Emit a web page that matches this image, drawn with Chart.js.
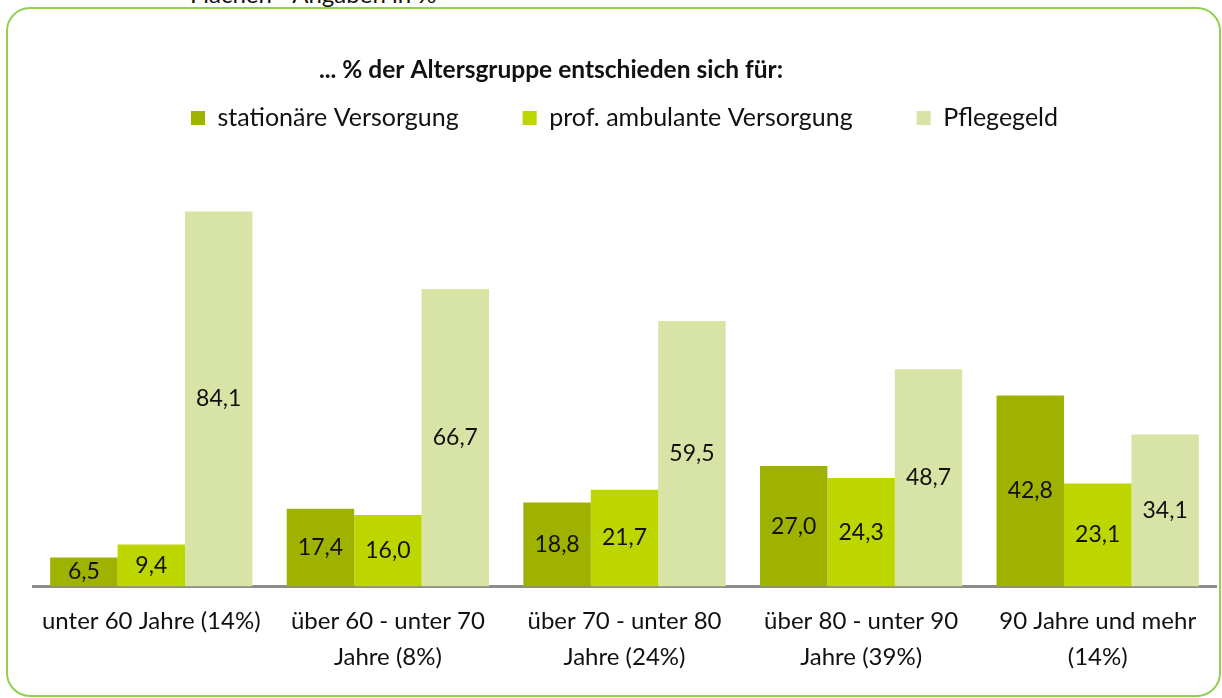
<!DOCTYPE html>
<html>
<head>
<meta charset="utf-8">
<script src="https://cdn.jsdelivr.net/npm/chart.js@4/dist/chart.umd.min.js"></script>
<style>
    html, body { margin: 0; padding: 0; background: #fff; overflow: hidden; }
    .wrap { position: relative; width: 1222px; height: 698px; }
    .frame {
        position: absolute; left: 6px; top: 7px; width: 1215px; height: 690px;
        box-sizing: border-box; border: 2px solid #92d050; border-radius: 24px;
        pointer-events: none;
    }
    .cut {
        position: absolute; left: 190px; top: -21px;
        font-family: Lato, sans-serif; font-size: 24px; color: #111;
    }
    canvas { position: absolute; left: 0; top: 0; }
</style>
</head>
<body>
<div class="wrap">
    <div class="cut">Flächen - Angaben in %</div>
    <div class="frame"></div>
    <canvas id="chart" width="1222" height="698"></canvas>
</div>
<script>
const categories = [
    ["unter 60 Jahre (14%)"],
    ["über 60 - unter 70", "Jahre (8%)"],
    ["über 70 - unter 80", "Jahre (24%)"],
    ["über 80 - unter 90", "Jahre (39%)"],
    ["90 Jahre und mehr", "(14%)"]
];
const seriesNames = ["stationäre Versorgung", "prof. ambulante Versorgung", "Pflegegeld"];
const stationaer = [6.5, 17.4, 18.8, 27.0, 42.8];
const ambulant = [9.4, 16.0, 21.7, 24.3, 23.1];
const pflegegeld = [84.1, 66.7, 59.5, 48.7, 34.1];
const colors = ['#9fb200', '#bed600', '#d8e4a6'];
const heading = '... % der Altersgruppe entschieden sich für:';

const fontFamily = 'Lato, "Open Sans", sans-serif';

// Überschrift steht in Excel etwas links der Mitte
const headingPlugin = {
    id: 'heading',
    afterDraw(chart) {
        const ctx = chart.ctx;
        ctx.save();
        ctx.font = 'bold 24.5px ' + fontFamily;
        ctx.fillStyle = '#111';
        ctx.textAlign = 'center';
        ctx.textBaseline = 'middle';
        ctx.fillText(heading, 551, 70);
        ctx.restore();
    }
};

// Werte mittig in die Balken schreiben
const valueLabels = {
    id: 'valueLabels',
    afterDatasetsDraw(chart) {
        const ctx = chart.ctx;
        ctx.save();
        ctx.font = '23px ' + fontFamily;
        ctx.fillStyle = '#111';
        ctx.textAlign = 'center';
        ctx.textBaseline = 'middle';
        chart.data.datasets.forEach((ds, i) => {
            chart.getDatasetMeta(i).data.forEach((bar, j) => {
                const txt = ds.data[j].toFixed(1).replace('.', ',');
                ctx.fillText(txt, bar.x, (bar.y + bar.base) / 2);
            });
        });
        ctx.restore();
    }
};

new Chart(document.getElementById('chart'), {
    type: 'bar',
    data: {
        labels: categories,
        datasets: [{
            label: seriesNames[0],
            data: stationaer,
            backgroundColor: colors[0]
        }, {
            label: seriesNames[1],
            data: ambulant,
            backgroundColor: colors[1]
        }, {
            label: seriesNames[2],
            data: pflegegeld,
            backgroundColor: colors[2]
        }]
    },
    options: {
        responsive: false,
        animation: false,
        categoryPercentage: 0.855,
        barPercentage: 1,
        layout: {
            padding: { top: 41.5, left: 33, right: 6, bottom: 5.5 }
        },
        plugins: {
            title: { display: false },
            legend: {
                position: 'top',
                labels: {
                    color: '#111',
                    font: { family: fontFamily, size: 25 },
                    boxWidth: 14,
                    boxHeight: 14,
                    padding: 64
                }
            },
            tooltip: { enabled: false }
        },
        scales: {
            x: {
                grid: { display: false, drawTicks: false },
                border: { display: true, color: '#8c8c8c', width: 3 },
                ticks: {
                    color: '#111',
                    padding: 17.5,
                    maxRotation: 0,
                    autoSkip: false,
                    font: { family: fontFamily, size: 24, lineHeight: 1.48 }
                }
            },
            y: {
                display: false,
                min: 0,
                max: 100
            }
        }
    },
    plugins: [valueLabels, headingPlugin]
});
</script>
</body>
</html>
